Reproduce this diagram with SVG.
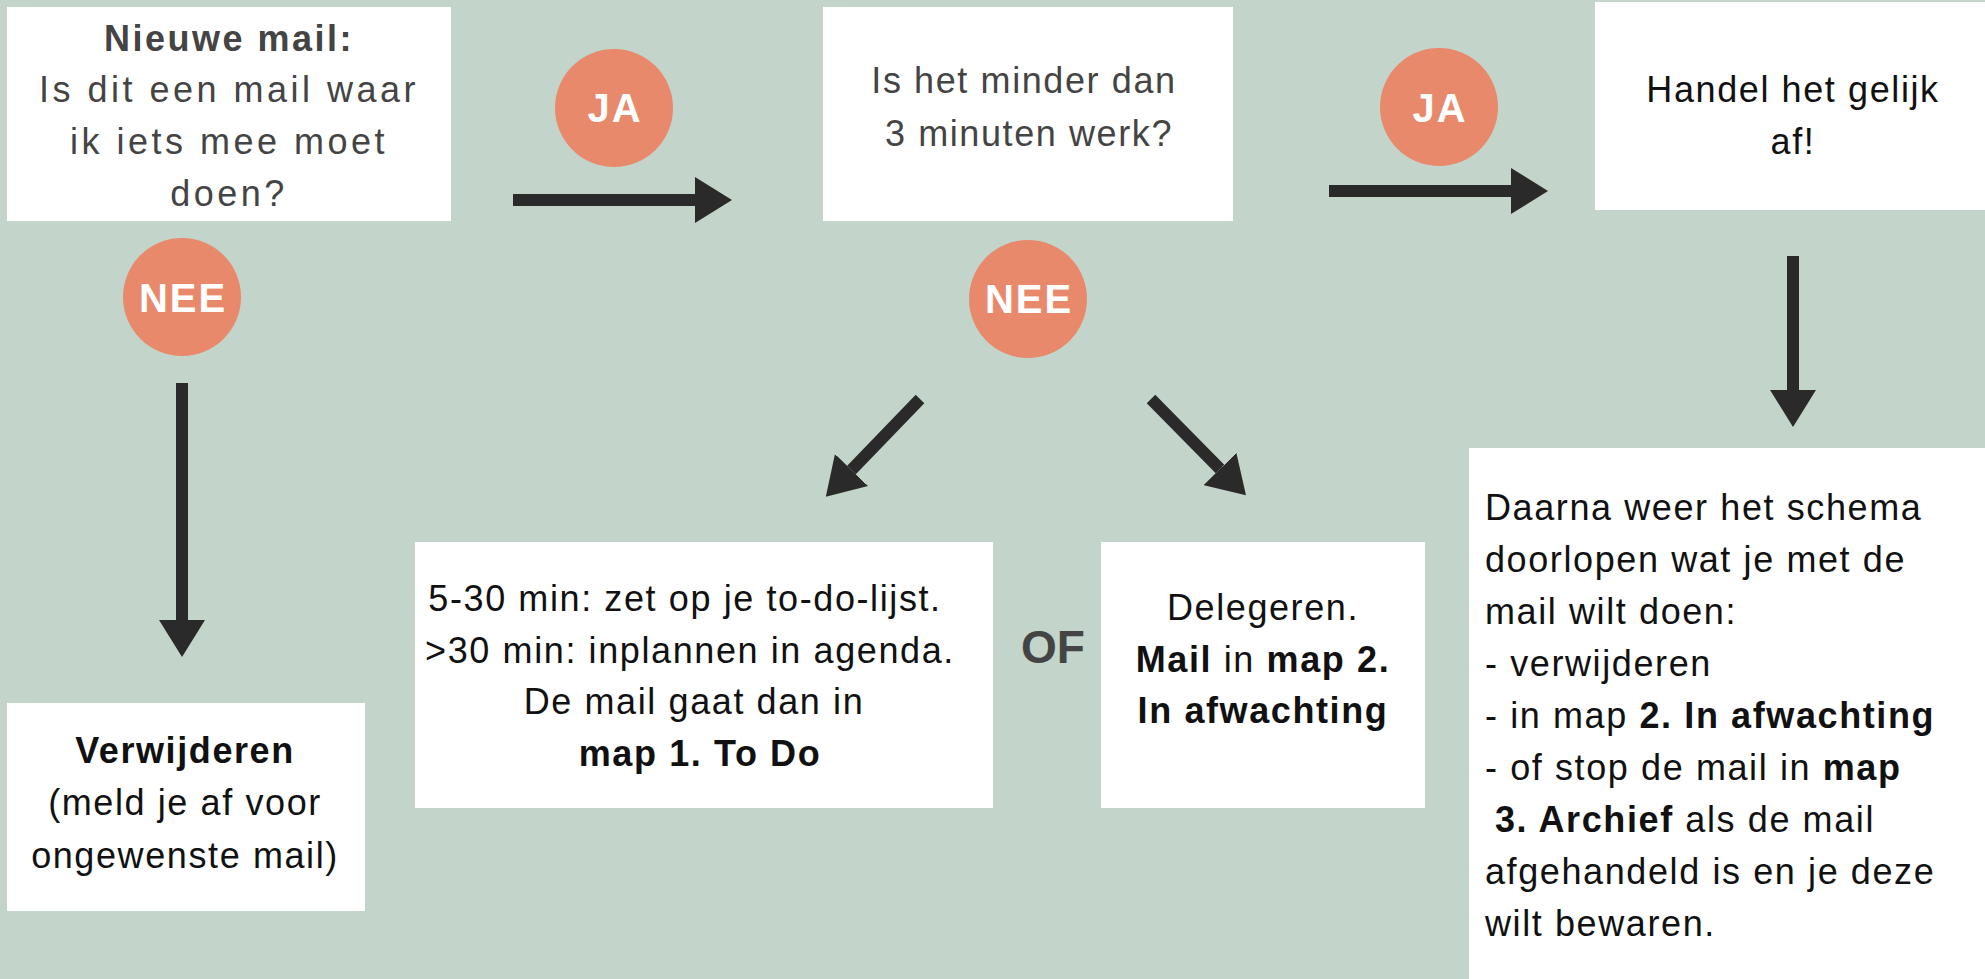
<svg xmlns="http://www.w3.org/2000/svg" width="1985" height="979" viewBox="0 0 1985 979">
<style>
.bg{fill:#C3D4CA}
.box{fill:#ffffff}
.badge{fill:#E8896B}
.t{font-family:"Liberation Sans",Arial,sans-serif;font-size:36px;letter-spacing:1.6px;fill:#111}
.c{text-anchor:middle}
.g{fill:#444}
.b{font-weight:bold}
.lbl{font-family:"Liberation Sans",Arial,sans-serif;font-size:40px;font-weight:bold;letter-spacing:2px;fill:#fff;text-anchor:middle}
.of{font-family:"Liberation Sans",Arial,sans-serif;font-size:46px;font-weight:bold;fill:#444;text-anchor:middle}
.conn{stroke:#2A2A2A;stroke-width:12;fill:none}
</style>
<defs>
<marker id="head" viewBox="0 -23 37 46" markerWidth="37" markerHeight="46" refX="0" refY="0" orient="auto" markerUnits="userSpaceOnUse">
<path d="M0,-23 L37,0 L0,23 Z" fill="#2A2A2A"/>
</marker>
</defs>
<rect class="bg" x="0" y="0" width="1985" height="979"/>

<g id="connectors">
<line class="conn" x1="513" y1="200" x2="695" y2="200" marker-end="url(#head)"/>
<line class="conn" x1="1329" y1="191" x2="1511" y2="191" marker-end="url(#head)"/>
<line class="conn" x1="182" y1="383" x2="182" y2="620" marker-end="url(#head)"/>
<line class="conn" x1="1793" y1="256" x2="1793" y2="390" marker-end="url(#head)"/>
<line class="conn" x1="920" y1="399" x2="851.5" y2="470" marker-end="url(#head)"/>
<line class="conn" x1="1151" y1="399" x2="1220" y2="469" marker-end="url(#head)"/>
</g>

<g id="node-nieuwe-mail">
<rect class="box" x="7" y="7" width="444" height="214"/>
<text class="t c g b" x="229" y="51" style="letter-spacing:2.5px">Nieuwe mail:</text>
<text class="t c g" x="229" y="102" style="letter-spacing:3.5px">Is dit een mail waar</text>
<text class="t c g" x="229" y="154" style="letter-spacing:3.5px">ik iets mee moet</text>
<text class="t c g" x="229" y="206" style="letter-spacing:3.5px">doen?</text>
</g>

<g id="node-minder-dan-3">
<rect class="box" x="823" y="7" width="410" height="214"/>
<text class="t c g" x="1024" y="93">Is het minder dan</text>
<text class="t c g" x="1029" y="146">3 minuten werk?</text>
</g>

<g id="node-handel-af">
<rect class="box" x="1595" y="2" width="390" height="208"/>
<text class="t c" x="1793" y="102">Handel het gelijk</text>
<text class="t c" x="1793" y="154">af!</text>
</g>

<g id="node-verwijderen">
<rect class="box" x="7" y="703" width="358" height="208"/>
<text class="t c b" x="185" y="763">Verwijderen</text>
<text class="t c" x="185" y="815">(meld je af voor</text>
<text class="t c" x="185" y="868">ongewenste mail)</text>
</g>

<g id="node-todo">
<rect class="box" x="415" y="542" width="578" height="266"/>
<text class="t c" x="685" y="611">5-30 min: zet op je to-do-lijst.</text>
<text class="t c" x="690" y="663">&gt;30 min: inplannen in agenda.</text>
<text class="t c" x="694" y="714">De mail gaat dan in</text>
<text class="t c b" x="700" y="766">map 1. To Do</text>
</g>

<g id="node-of">
<text class="of" x="1053" y="663">OF</text>
</g>

<g id="node-delegeren">
<rect class="box" x="1101" y="542" width="324" height="266"/>
<text class="t c" x="1263" y="620">Delegeren.</text>
<text class="t c" x="1263" y="672"><tspan class="b">Mail</tspan> in <tspan class="b">map 2.</tspan></text>
<text class="t c b" x="1263" y="723">In afwachting</text>
</g>

<g id="node-daarna">
<rect class="box" x="1469" y="448" width="516" height="531"/>
<text class="t" x="1485" y="520">Daarna weer het schema</text>
<text class="t" x="1485" y="572">doorlopen wat je met de</text>
<text class="t" x="1485" y="624">mail wilt doen:</text>
<text class="t" x="1485" y="676">- verwijderen</text>
<text class="t" x="1485" y="728">- in map <tspan class="b">2. In afwachting</tspan></text>
<text class="t" x="1485" y="780">- of stop de mail in <tspan class="b">map</tspan></text>
<text class="t" x="1495" y="832"><tspan class="b">3. Archief</tspan> als de mail</text>
<text class="t" x="1485" y="884">afgehandeld is en je deze</text>
<text class="t" x="1485" y="936">wilt bewaren.</text>
</g>

<g id="badge-ja-1">
<circle class="badge" cx="614" cy="108" r="59"/>
<text class="lbl" x="615" y="122">JA</text>
</g>
<g id="badge-ja-2">
<circle class="badge" cx="1439" cy="107" r="59"/>
<text class="lbl" x="1440" y="122">JA</text>
</g>
<g id="badge-nee-1">
<circle class="badge" cx="182" cy="297" r="59"/>
<text class="lbl" x="183" y="312">NEE</text>
</g>
<g id="badge-nee-2">
<circle class="badge" cx="1028" cy="299" r="59"/>
<text class="lbl" x="1029" y="313">NEE</text>
</g>
</svg>
